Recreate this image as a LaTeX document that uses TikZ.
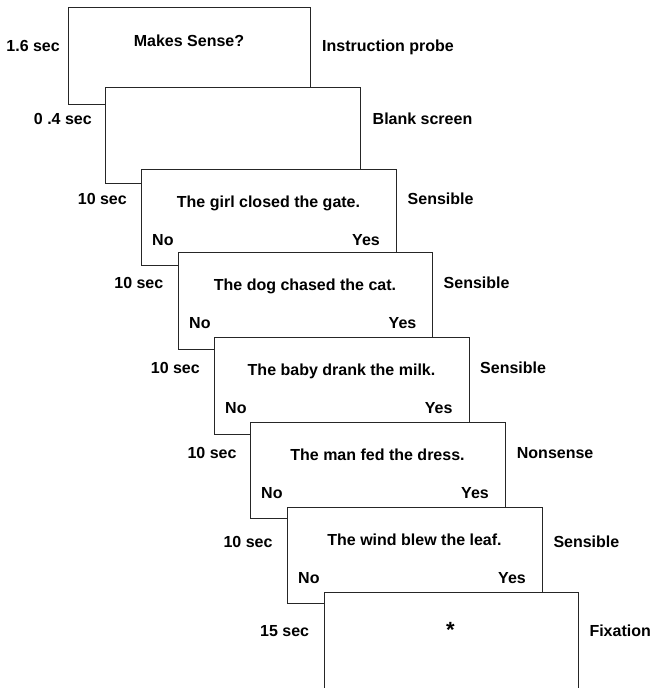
\documentclass[tikz,border=0pt]{standalone}
\usepackage{fontspec}
\setmainfont{Liberation Sans}
\begin{document}
\begin{tikzpicture}[x=1pt,y=-1pt,
  screen/.style={draw=black!85, line width=0.9pt, fill=white, rectangle, anchor=north west, inner sep=0pt},
  lbl/.style={font=\fontsize{16}{19}\selectfont\bfseries, inner sep=0pt},
  leftlbl/.style={lbl, anchor=base east},
  rightlbl/.style={lbl, anchor=base west},
  midlbl/.style={lbl, anchor=base},
  nolbl/.style={lbl, anchor=base west},
  yeslbl/.style={lbl, anchor=base east}]
\useasboundingbox (0,0) rectangle (652,688);
% screens
\node[screen, minimum width=242pt, minimum height=97pt] (s1) at (68,7) {};
\node[screen, minimum width=255pt, minimum height=96pt] (s2) at (105,87) {};
\node[screen, minimum width=255pt, minimum height=96pt] (s3) at (141,169) {};
\node[screen, minimum width=254pt, minimum height=97pt] (s4) at (178,252) {};
\node[screen, minimum width=255pt, minimum height=97pt] (s5) at (214,337) {};
\node[screen, minimum width=255pt, minimum height=96pt] (s6) at (250,422) {};
\node[screen, minimum width=255pt, minimum height=96pt] (s7) at (287,507) {};
\node[screen, minimum width=254pt, minimum height=110pt] (s8) at (324,592) {};
% screen 1
\node[leftlbl] (t1) at (60,51.5) {1.6 sec};
\node[midlbl] (m1) at (189,46.5) {Makes Sense?};
\node[rightlbl] (r1) at (322,51) {Instruction probe};
% screen 2
\node[leftlbl] (t2) at (92,124) {0 .4 sec};
\node[rightlbl] (r2) at (372.5,124) {Blank screen};
% screen 3
\node[leftlbl] (t3) at (127,204) {10 sec};
\node[midlbl] (m3) at (268.5,207) {The girl closed the gate.};
\node[rightlbl] (r3) at (407.5,204) {Sensible};
\node[nolbl] (n3) at (152,245) {No};
\node[yeslbl] (y3) at (380,245) {Yes};
% screen 4
\node[leftlbl] (t4) at (163.5,288.5) {10 sec};
\node[midlbl] (m4) at (305,290.7) {The dog chased the cat.};
\node[rightlbl] (r4) at (443.5,288.5) {Sensible};
\node[nolbl] (n4) at (189,328.3) {No};
\node[yeslbl] (y4) at (416.5,328.3) {Yes};
% screen 5
\node[leftlbl] (t5) at (200,373.3) {10 sec};
\node[midlbl] (m5) at (341.5,375.7) {The baby drank the milk.};
\node[rightlbl] (r5) at (480,373.3) {Sensible};
\node[nolbl] (n5) at (225,413.3) {No};
\node[yeslbl] (y5) at (452.7,413.3) {Yes};
% screen 6
\node[leftlbl] (t6) at (236.7,458.3) {10 sec};
\node[midlbl] (m6) at (377.5,460.7) {The man fed the dress.};
\node[rightlbl] (r6) at (516.7,458.3) {Nonsense};
\node[nolbl] (n6) at (261,498.3) {No};
\node[yeslbl] (y6) at (489,498.3) {Yes};
% screen 7
\node[leftlbl] (t7) at (272.7,547.7) {10 sec};
\node[midlbl] (m7) at (414.5,545) {The wind blew the leaf.};
\node[rightlbl] (r7) at (553.3,547.7) {Sensible};
\node[nolbl] (n7) at (298,583.3) {No};
\node[yeslbl] (y7) at (526,583.3) {Yes};
% screen 8
\node[leftlbl] (t8) at (309.3,636.7) {15 sec};
\node[midlbl, font=\fontsize{22}{26}\selectfont\bfseries] (m8) at (450.5,637.5) {*};
\node[rightlbl] (r8) at (589.3,636.7) {Fixation};
\end{tikzpicture}
\end{document}
